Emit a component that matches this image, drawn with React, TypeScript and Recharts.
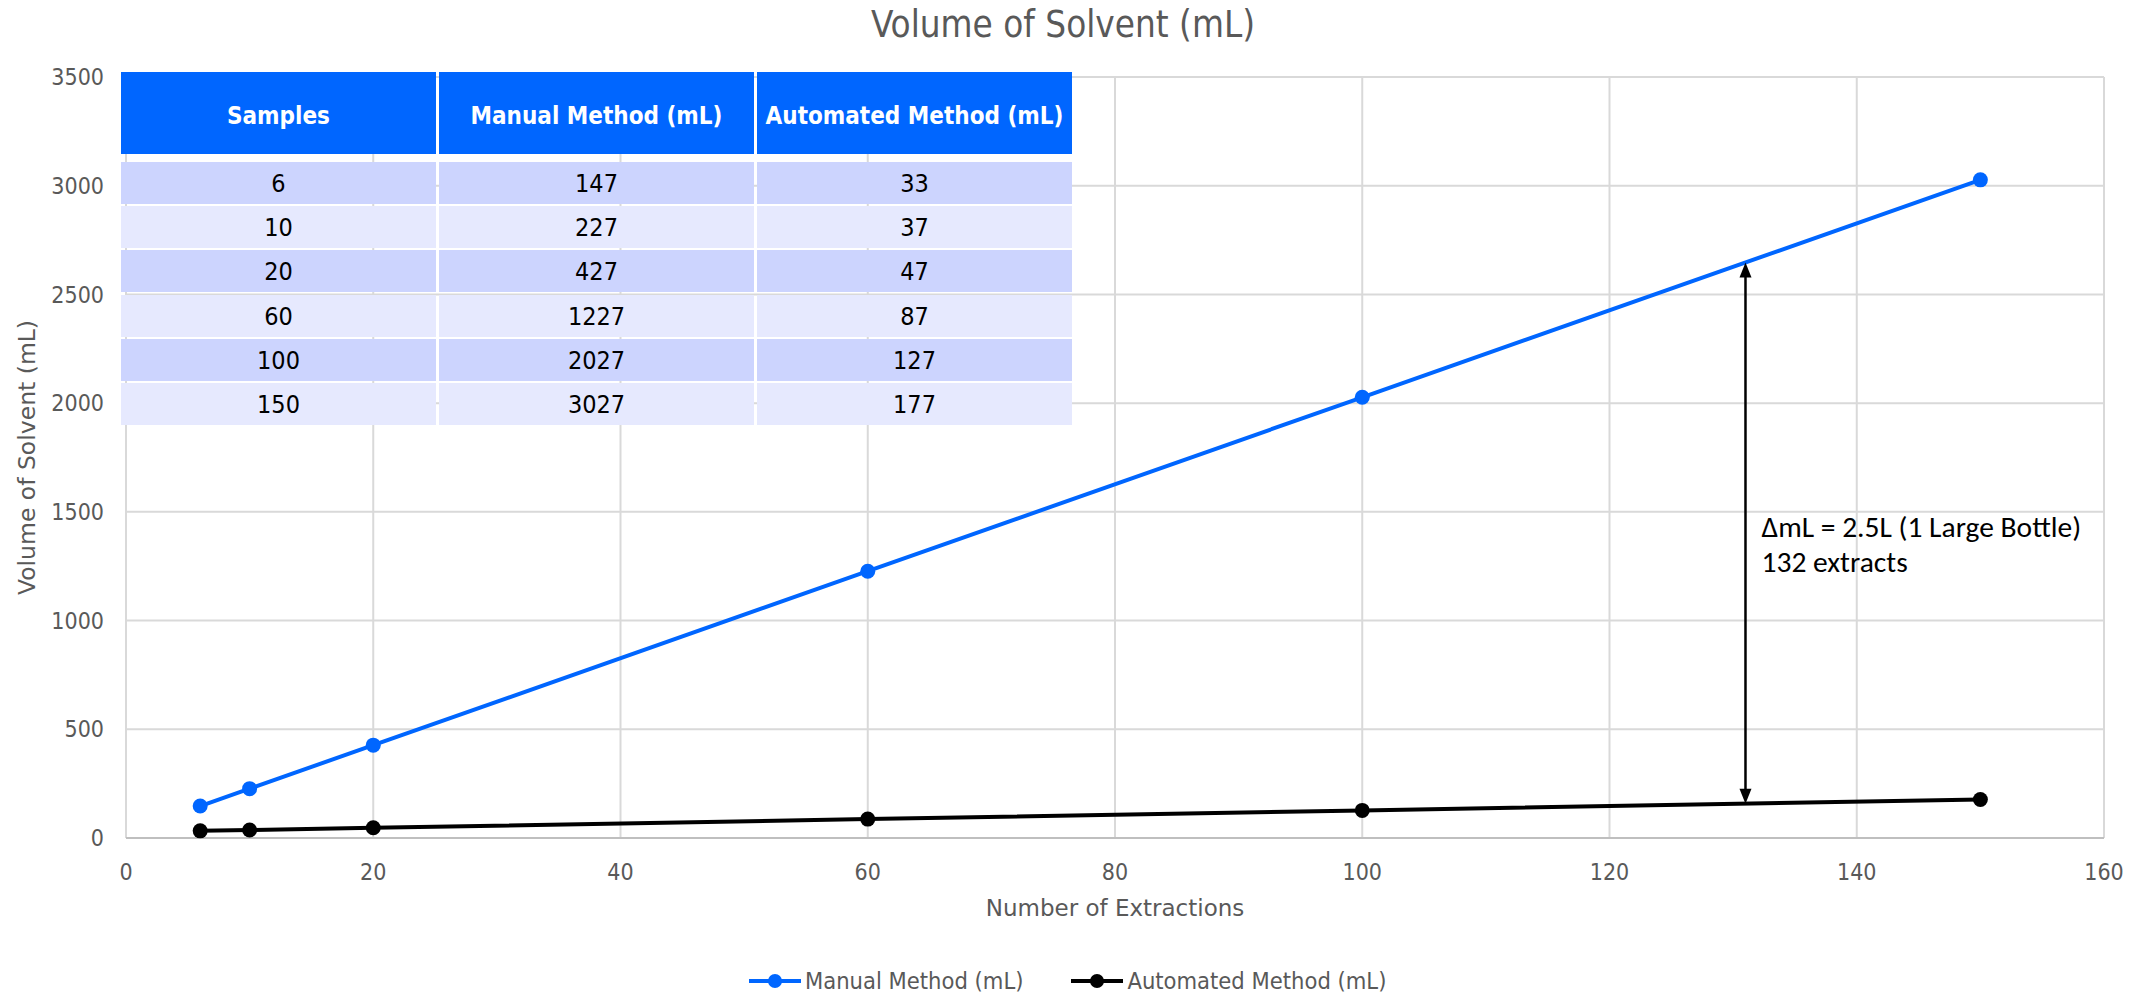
import React from "react"
import {
  LineChart,
  Line,
  XAxis,
  YAxis,
  CartesianGrid,
  Legend,
  ReferenceLine,
} from "recharts"

const samples = [6, 10, 20, 60, 100, 150]
const manualMl = [147, 227, 427, 1227, 2027, 3027]
const automatedMl = [33, 37, 47, 87, 127, 177]

const xTicks = [0, 20, 40, 60, 80, 100, 120, 140, 160]
const yTicks = [0, 500, 1000, 1500, 2000, 2500, 3000, 3500]

const tableHeaders = ["Samples", "Manual Method (mL)", "Automated Method (mL)"]

// difference marker between the two methods
const gapX = 131
const gapLow = 158
const gapHigh = 2647
const gapNoteLines = ["\u0394mL = 2.5L (1 Large Bottle)", "132 extracts"]

const BLUE = "#0066FF"
const GREY_TEXT = "#595959"
const GRID = "#D9D9D9"
const NARROW_FONT = "'DejaVu Sans Condensed', 'DejaVu Sans', sans-serif"
const WIDE_FONT = "'DejaVu Sans', Verdana, sans-serif"
const NOTE_FONT = "Carlito, Lato, 'Open Sans', sans-serif"

const WIDTH = 2148
const HEIGHT = 999

const chartData = samples.map((s, i) => ({
  samples: s,
  manual: manualMl[i],
  automated: automatedMl[i],
}))

const YTitle = ({ viewBox }: any) => {
  const cx = 27
  const cy = viewBox.y + viewBox.height / 2
  return (
    <text
      x={cx}
      y={cy}
      transform={`rotate(-90 ${cx} ${cy})`}
      textAnchor="middle"
      dominantBaseline="central"
      fill={GREY_TEXT}
      fontSize={23.5}
      fontFamily={WIDE_FONT}
    >
      Volume of Solvent (mL)
    </text>
  )
}

const XTitle = ({ viewBox }: any) => {
  const cx = viewBox.x + viewBox.width / 2
  return (
    <text
      x={cx}
      y={908}
      textAnchor="middle"
      dominantBaseline="central"
      fill={GREY_TEXT}
      fontSize={23}
      fontFamily={WIDE_FONT}
    >
      Number of Extractions
    </text>
  )
}

const GapArrow = (props: any) => {
  const { x1, y1, x2, y2 } = props
  const top = Math.min(y1, y2)
  const bottom = Math.max(y1, y2)
  const head = 15
  const half = 6
  const mid = (top + bottom) / 2
  return (
    <g>
      <line x1={x1} y1={top + head - 2} x2={x2} y2={bottom - head + 2} stroke="#000" strokeWidth={2.5} />
      <polygon points={`${x1},${top} ${x1 - half},${top + head} ${x1 + half},${top + head}`} fill="#000" />
      <polygon points={`${x1},${bottom} ${x1 - half},${bottom - head} ${x1 + half},${bottom - head}`} fill="#000" />
      {gapNoteLines.map((t, i) => (
        <text key={t} x={x1 + 16} y={mid + 4 + i * 35} fontSize={29.5} fontFamily={NOTE_FONT} fill="#000">
          {t}
        </text>
      ))}
    </g>
  )
}

const LegendContent = () => {
  const items = [
    { label: "Manual Method (mL)", color: BLUE },
    { label: "Automated Method (mL)", color: "#000" },
  ]
  return (
    <div style={{ display: "flex", alignItems: "center", height: 36, paddingLeft: 749 }}>
      {items.map((it) => (
        <div key={it.label} style={{ display: "flex", alignItems: "center", marginRight: 48 }}>
          <svg width={52} height={20}>
            <line x1={0} y1={10} x2={52} y2={10} stroke={it.color} strokeWidth={4} />
            <circle cx={26} cy={10} r={7} fill={it.color} />
          </svg>
          <span style={{ marginLeft: 4, fontSize: 23.5, color: GREY_TEXT, fontFamily: NARROW_FONT }}>{it.label}</span>
        </div>
      ))}
    </div>
  )
}

const DataTable = () => {
  const colLeft = [121, 439, 757]
  const colWidth = 315
  const rows = samples.map((s, i) => [s, manualMl[i], automatedMl[i]])
  return (
    <div style={{ position: "absolute", left: 0, top: 0, fontFamily: NARROW_FONT }}>
      {tableHeaders.map((h, c) => (
        <div
          key={h}
          style={{
            position: "absolute",
            left: colLeft[c],
            top: 72,
            width: colWidth,
            height: 82,
            boxSizing: "border-box",
            paddingTop: 6,
            background: BLUE,
            color: "#fff",
            fontWeight: "bold",
            fontSize: 24,
            display: "flex",
            alignItems: "center",
            justifyContent: "center",
            whiteSpace: "nowrap",
          }}
        >
          {h}
        </div>
      ))}
      {rows.map((r, i) =>
        r.map((v, c) => (
          <div
            key={`${i}-${c}`}
            style={{
              position: "absolute",
              left: colLeft[c],
              top: Math.round(162 + i * 44.2),
              width: colWidth,
              height: 42,
              background: i % 2 === 0 ? "#CCD4FE" : "#E6E9FE",
              color: "#000",
              fontSize: 25,
              display: "flex",
              alignItems: "center",
              justifyContent: "center",
            }}
          >
            {v}
          </div>
        )),
      )}
    </div>
  )
}

export default function App() {
  return (
    <div style={{ position: "absolute", left: 0, top: 0, width: WIDTH, height: HEIGHT, background: "#fff" }}>
      <div
        style={{
          position: "absolute",
          left: 0,
          top: 3,
          width: 2126,
          textAlign: "center",
          fontSize: 36.5,
          color: GREY_TEXT,
          fontFamily: NARROW_FONT,
        }}
      >
        Volume of Solvent (mL)
      </div>
      <div style={{ position: "absolute", left: 0, top: 0 }}>
        <LineChart width={WIDTH} height={HEIGHT} data={chartData} margin={{ top: 77, right: 44, bottom: 0, left: 0 }}>
          <CartesianGrid stroke={GRID} strokeWidth={2} />
          <XAxis
            type="number"
            dataKey="samples"
            domain={[0, 160]}
            ticks={xTicks}
            height={125}
            tickLine={false}
            tickSize={0}
            tickMargin={26}
            axisLine={{ stroke: "#BFBFBF", strokeWidth: 2 }}
            tick={{ fill: GREY_TEXT, fontSize: 23, fontFamily: NARROW_FONT }}
            label={<XTitle />}
          />
          <YAxis
            type="number"
            domain={[0, 3500]}
            ticks={yTicks}
            width={126}
            tickLine={false}
            tickSize={0}
            tickMargin={22}
            axisLine={false}
            tick={{ fill: GREY_TEXT, fontSize: 23, fontFamily: NARROW_FONT }}
            label={<YTitle />}
          />
          <Legend verticalAlign="bottom" height={36} content={<LegendContent />} />
          <Line
            type="linear"
            dataKey="manual"
            name="Manual Method (mL)"
            stroke={BLUE}
            strokeWidth={4}
            dot={{ r: 7.5, fill: BLUE, stroke: BLUE, strokeWidth: 0 }}
            isAnimationActive={false}
          />
          <Line
            type="linear"
            dataKey="automated"
            name="Automated Method (mL)"
            stroke="#000"
            strokeWidth={4}
            dot={{ r: 7.5, fill: "#000", stroke: "#000", strokeWidth: 0 }}
            isAnimationActive={false}
          />
          <ReferenceLine
            segment={[
              { x: gapX, y: gapLow },
              { x: gapX, y: gapHigh },
            ]}
            shape={<GapArrow />}
          />
        </LineChart>
      </div>
      <DataTable />
    </div>
  )
}
